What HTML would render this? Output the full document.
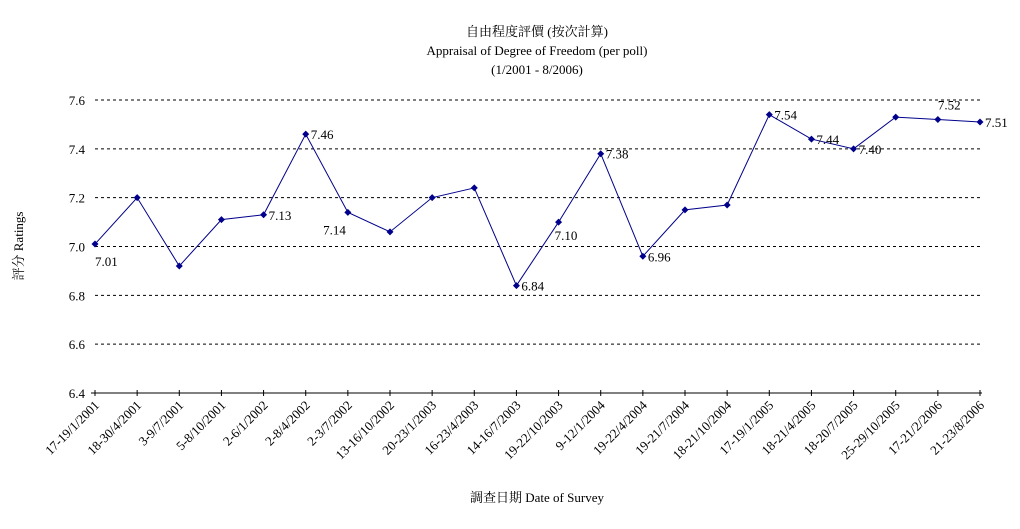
<!DOCTYPE html>
<html><head><meta charset="utf-8">
<style>
body{margin:0;background:#fff;}
svg{display:block;font-family:"Liberation Serif","Noto Serif CJK SC","Noto Sans CJK TC",serif;}
</style></head>
<body>
<svg id="chart" width="1020" height="529" viewBox="0 0 1020 529" xmlns="http://www.w3.org/2000/svg">
<text x="537" y="36" font-size="13" text-anchor="middle">自由程度評價 (按次計算)</text>
<text x="537" y="55" font-size="13" text-anchor="middle">Appraisal of Degree of Freedom (per poll)</text>
<text x="537" y="74" font-size="13" text-anchor="middle">(1/2001 - 8/2006)</text>
<text transform="translate(23,246) rotate(-90)" font-size="13" text-anchor="middle">評分 Ratings</text>
<text x="537" y="502" font-size="13" text-anchor="middle">調查日期 Date of Survey</text>
<g id="grid"></g><g id="axes"></g><g id="series"></g>
</svg>
<script>
const categories=["17-19/1/2001","18-30/4/2001","3-9/7/2001","5-8/10/2001","2-6/1/2002","2-8/4/2002","2-3/7/2002","13-16/10/2002","20-23/1/2003","16-23/4/2003","14-16/7/2003","19-22/10/2003","9-12/1/2004","19-22/4/2004","19-21/7/2004","18-21/10/2004","17-19/1/2005","18-21/4/2005","18-20/7/2005","25-29/10/2005","17-21/2/2006","21-23/8/2006"];
const ratings=[7.01,7.20,6.92,7.11,7.13,7.46,7.14,7.06,7.20,7.24,6.84,7.10,7.38,6.96,7.15,7.17,7.54,7.44,7.40,7.53,7.52,7.51];
const yTicks=[6.4,6.6,6.8,7.0,7.2,7.4,7.6];
const labelled=[0,4,5,6,10,11,12,13,16,17,18,20,21];
const NS="http://www.w3.org/2000/svg";
const x0=95,x1=980,yMin=6.4,yMax=7.6,yTop=100,yBot=393;
const xs=i=>x0+(x1-x0)*i/(categories.length-1);
const ys=v=>yBot-(v-yMin)/(yMax-yMin)*(yBot-yTop);
function mk(t,a,p){const e=document.createElementNS(NS,t);for(const k in a)e.setAttribute(k,a[k]);p.appendChild(e);return e;}
const grid=document.getElementById('grid'),axes=document.getElementById('axes'),ser=document.getElementById('series');
yTicks.forEach(v=>{
  if(v>yMin){const l=mk('line',{x1:x0,x2:x1,y1:ys(v),y2:ys(v),stroke:'#000','stroke-dasharray':'3,3','stroke-width':1},grid);
  
  }
  const t=mk('text',{x:85,y:ys(v)+5,'font-size':13,'text-anchor':'end'},axes);t.textContent=v.toFixed(1);
  
  
});
const ax=mk('line',{x1:91,x2:x1+2,y1:yBot,y2:yBot,stroke:'#000'},axes);


categories.forEach((c,i)=>{
  const tk=mk('line',{x1:xs(i),x2:xs(i),y1:yBot-3,y2:yBot+3,stroke:'#000'},axes);
  
  
  const t=mk('text',{transform:`translate(${xs(i)+5},${yBot+13}) rotate(-45)`,'font-size':13,'text-anchor':'end'},axes);
  t.textContent=c;
  
  
});
const pl=mk('polyline',{points:ratings.map((v,i)=>xs(i)+','+ys(v)).join(' '),fill:'none',stroke:'#00008b','stroke-width':1},ser);


ratings.forEach((v,i)=>{
  const x=xs(i),y=ys(v);
  const m=mk('path',{d:`M${x},${y-3.5}L${x+3.5},${y}L${x},${y+3.5}L${x-3.5},${y}Z`,fill:'#00008b'},ser);
  
  
  if(labelled.includes(i)){
    let dx=5,dy=5,anc='start';
    if(i===0){dx=0;dy=22;}
    if(i===6){dx=-2;dy=22;anc='end';}
    if(i===11){dx=-4;dy=18;}
    if(i===20){dx=0;dy=-10;}
    const t=mk('text',{x:x+dx,y:y+dy,'font-size':13,'text-anchor':anc},ser);
    t.textContent=v.toFixed(2);
    
    
  }
});
</script>
</body></html>
